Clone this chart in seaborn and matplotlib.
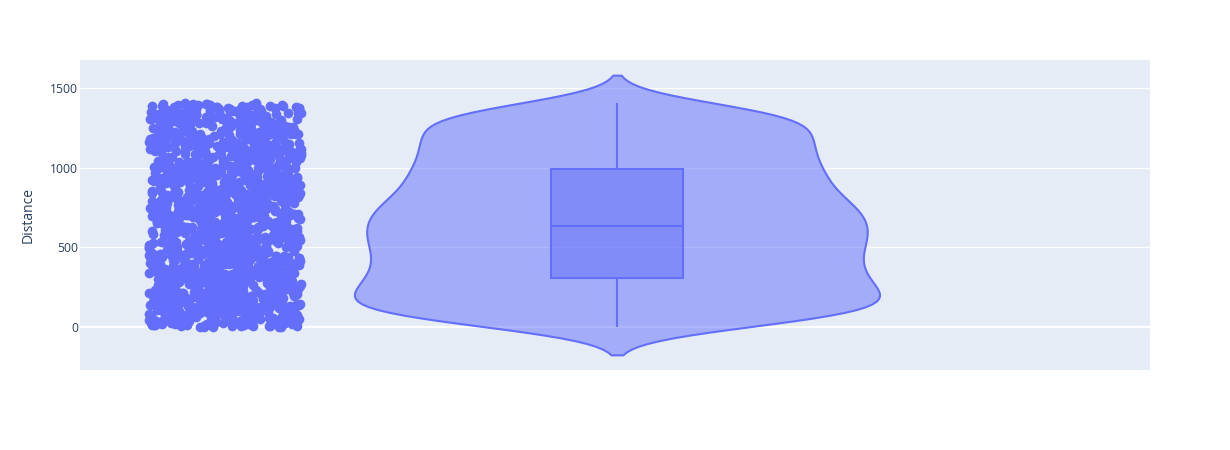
import matplotlib
matplotlib.use("Agg")
import matplotlib.pyplot as plt
import pandas as pd
import seaborn as sns

distance = [
    12, 47, 3, 88, 61, 25, 94, 39, 7, 70, 53, 18, 81, 33, 66, 2, 99, 44, 57, 21,
    76, 9, 85, 38, 63, 15, 92, 50, 28, 72, 5, 41, 97, 59, 23, 80, 35, 68, 11, 90,
    46, 0, 74, 30, 55, 17, 83, 64, 27, 95, 42, 8, 78, 52, 36, 87, 20, 69,
    104, 167, 131, 188, 112, 149, 176, 125, 193, 140, 158, 118, 183, 136, 101, 171,
    154, 129, 197, 146, 109, 163, 185, 122, 138, 179, 115, 152, 191, 133, 106, 169,
    144, 127, 181, 160, 199, 117, 150, 174, 135, 102, 186, 142, 165, 120, 195, 156,
    111, 178, 131, 147, 189, 124, 161, 108, 172, 139, 153, 184, 114, 198, 143, 166, 127,
    213, 276, 241, 298, 225, 259, 287, 204, 236, 268, 219, 252, 291, 230, 264, 208,
    281, 246, 222, 295, 257, 238, 272, 211, 284, 249, 227, 263, 201, 290, 244, 217,
    279, 255, 233, 297, 206, 270, 242, 261, 215, 286, 228, 251, 293, 209, 274, 239,
    266, 220, 283, 247, 203, 258, 235, 289, 224, 271,
    307, 352, 389, 331, 366, 314, 378, 345, 302, 393, 327, 360, 318, 384, 341, 372,
    309, 356, 335, 398, 323, 369, 347, 311, 381, 338, 363, 305, 392, 329, 354, 375,
    316, 343, 387, 321, 359, 333, 396, 312, 368, 349, 380, 325, 361, 301, 390, 337,
    357, 319, 383, 346, 371, 328, 395, 340,
    412, 463, 438, 491, 405, 457, 426, 484, 449, 418, 473, 432, 497, 441, 409, 468,
    421, 486, 453, 434, 479, 402, 461, 445, 493, 415, 471, 429, 455, 488, 404, 437,
    466, 423, 482, 451, 410, 476, 443, 498, 427, 459, 414, 470, 436, 489, 447, 407,
    464, 431, 481, 419, 456, 440, 494, 425,
    508, 561, 534, 587, 519, 573, 546, 502, 595, 528, 557, 513, 582, 540, 567, 524,
    591, 551, 506, 578, 537, 563, 516, 599, 544, 572, 521, 555, 588, 531, 504, 566,
    549, 584, 511, 559, 538, 593, 526, 575, 547, 517, 569, 533, 586, 552, 501, 579,
    542, 564, 523, 597, 556, 514, 581, 535, 568, 529, 590, 548,
    603, 658, 627, 684, 612, 671, 639, 696, 618, 653, 631, 689, 607, 664, 642, 678,
    621, 699, 648, 635, 673, 609, 660, 687, 625, 644, 615, 692, 656, 633, 668, 601,
    681, 646, 624, 697, 662, 611, 638, 675, 652, 619, 686, 629, 665, 605, 693, 641,
    617, 670, 636, 683, 657, 613, 690, 628, 661, 645, 677, 622,
    714, 768, 736, 792, 705, 751, 783, 722, 760, 741, 797, 710, 774, 729, 756, 788,
    717, 745, 702, 779, 733, 764, 725, 795, 748, 708, 771, 739, 786, 719, 757, 731,
    799, 744, 712, 766, 727, 781, 753, 704, 790, 737, 762, 715, 776, 742, 723, 794,
    759, 707, 784, 735, 770, 720, 747, 789,
    806, 853, 827, 881, 815, 864, 839, 897, 821, 872, 845, 809, 888, 833, 859, 817,
    876, 842, 803, 893, 851, 826, 868, 812, 884, 837, 857, 824, 899, 848, 811, 870,
    835, 891, 819, 862, 844, 804, 879, 830, 856, 814, 886, 841, 866, 822, 895, 850, 831,
    908, 962, 931, 985, 917, 953, 994, 926, 971, 943, 904, 979, 936, 958, 913, 990,
    947, 922, 967, 901, 983, 939, 956, 915, 997, 929, 974, 950, 906, 988, 933, 961,
    919, 976, 944, 911, 993, 928, 965, 941, 902, 981, 954, 924, 970, 937, 998, 912, 959,
    1007, 1063, 1031, 1088, 1015, 1052, 1096, 1024, 1071, 1040, 1003, 1082, 1036, 1059,
    1012, 1093, 1047, 1021, 1068, 1005, 1085, 1033, 1056, 1018, 1099, 1044, 1076, 1027,
    1062, 1009, 1090, 1038, 1066, 1014, 1079, 1050, 1025, 1094, 1042, 1070, 1001, 1086,
    1054, 1029, 1073,
    1106, 1158, 1129, 1183, 1114, 1147, 1192, 1121, 1166, 1138, 1102, 1175, 1133, 1154,
    1110, 1189, 1143, 1125, 1169, 1104, 1181, 1136, 1161, 1117, 1197, 1149, 1172, 1128,
    1156, 1108, 1186, 1140, 1164, 1119, 1178, 1151, 1123, 1194, 1145, 1170, 1101, 1184,
    1152, 1131, 1176,
    1205, 1262, 1233, 1287, 1216, 1250, 1296, 1223, 1271, 1241, 1208, 1280, 1237, 1259,
    1213, 1292, 1246, 1226, 1266, 1202, 1284, 1231, 1257, 1219, 1298, 1244, 1275, 1229,
    1263, 1210, 1289, 1239, 1268, 1215, 1278, 1253, 1222, 1294, 1248, 1272, 1203, 1283,
    1255, 1235, 1277,
    1304, 1357, 1326, 1384, 1312, 1349, 1391, 1320, 1368, 1337, 1301, 1377, 1333, 1355,
    1315, 1393, 1342, 1324, 1366, 1307, 1386, 1330, 1361, 1318, 1397, 1346, 1373, 1328,
    1359, 1309, 1389, 1339, 1364, 1314, 1380, 1352, 1322, 1395, 1344, 1371, 1303, 1382,
    1354, 1335, 1376, 1399,
    1402, 1406,
    # second pass over the cloud
    4, 51, 29, 86, 13, 67, 40, 93, 22, 58, 1, 77, 34, 62, 16, 89, 45, 71, 26, 98,
    10, 54, 83, 37, 65, 19, 91, 48, 6, 73, 31, 60, 24, 86, 43, 14, 79, 56, 32, 96,
    1, 68, 49, 84, 27, 63, 37, 92, 10, 75, 45, 19, 58, 81, 6, 71, 29, 53,
    110, 157, 132, 194, 118, 171, 145, 103, 187, 126, 162, 139, 199, 114, 151, 177,
    123, 168, 141, 105, 192, 134, 159, 116, 181, 148, 127, 173, 108, 196, 137, 164,
    121, 155, 184, 143, 100, 170, 130, 190, 113, 161, 147, 178, 119, 136, 198, 153,
    107, 182, 128, 166, 144, 175, 115, 189, 133, 158, 102, 174, 141, 195, 124, 163,
    150, 112, 186,
    202, 256, 231, 285, 214, 269, 243, 296, 221, 262, 207, 278, 237, 250, 292, 218,
    265, 229, 282, 245, 205, 273, 253, 234, 299, 212, 260, 240, 288, 226, 267, 210,
    280, 248, 223, 294, 254, 232, 275, 216, 261, 200, 286, 244, 227, 270, 238, 291,
    211, 257, 234, 281, 219, 264, 247, 206, 277, 252, 239, 289,
    303, 348, 376, 322, 359, 311, 386, 334, 367, 300, 353, 391, 326, 344, 379, 315,
    362, 338, 397, 308, 350, 373, 320, 342, 385, 331, 364, 306, 393, 336, 357, 313,
    381, 347, 324, 370, 304, 388, 339, 358, 317, 374, 332, 399, 351, 310, 366, 344,
    383, 321, 355, 337, 392, 314, 377, 329,
    401, 452, 428, 477, 416, 465, 439, 490, 408, 458, 433, 485, 420, 471, 446, 499,
    411, 462, 435, 480, 424, 454, 403, 487, 442, 467, 417, 495, 430, 460, 413, 474,
    448, 406, 483, 437, 469, 422, 492, 450, 400, 478, 433, 461, 418, 487, 444, 409,
    472, 429, 496, 456, 415, 466, 439, 483,
    503, 558, 527, 581, 512, 566, 539, 594, 520, 550, 507, 576, 543, 589, 515, 562,
    530, 598, 545, 509, 571, 536, 584, 518, 554, 500, 592, 541, 565, 525, 579, 510,
    548, 586, 532, 560, 505, 574, 522, 596, 553, 537, 569, 514, 583, 545, 501, 563,
    528, 590, 549, 518, 577, 534, 557, 511,
    606, 654, 632, 688, 614, 667, 643, 695, 620, 659, 602, 676, 637, 650, 685, 626,
    663, 610, 698, 640, 672, 616, 655, 691, 630, 647, 604, 680, 623, 666, 639, 694,
    612, 658, 634, 674, 608, 686, 649, 627, 662, 600, 679, 644, 619, 697, 653, 631,
    669, 614, 684, 641, 625, 676, 658, 609, 692,
    703, 755, 728, 782, 711, 767, 740, 796, 718, 761, 700, 773, 734, 750, 787, 724,
    765, 709, 793, 743, 778, 716, 752, 730, 798, 706, 769, 746, 785, 721, 758, 737,
    791, 713, 775, 749, 726, 780, 701, 763, 738, 797, 719, 754, 732, 772, 710, 787,
    745, 727, 766, 704, 782, 741, 758, 717,
    802, 858, 825, 877, 813, 866, 840, 894, 818, 852, 801, 883, 836, 861, 808, 890,
    847, 823, 873, 810, 855, 832, 898, 816, 869, 843, 805, 881, 829, 860, 820, 887,
    838, 850, 807, 875, 828, 896, 846, 815, 863, 834, 880, 800, 854, 826, 892, 843, 871,
    903, 957, 927, 982, 914, 966, 940, 995, 921, 951, 900, 975, 934, 960, 910, 987,
    945, 918, 969, 905, 979, 932, 955, 923, 999, 948, 964, 909, 986, 937, 952, 916,
    973, 941, 991, 925, 960, 907, 980, 946, 920, 968, 935, 996, 913, 958, 942, 977,
    930, 989,
    1004, 1058, 1026, 1081, 1013, 1067, 1041, 1095, 1020, 1053, 1000, 1074, 1035, 1061,
    1011, 1089, 1046, 1023, 1070, 1008, 1084, 1030, 1057, 1017, 1098, 1043, 1065, 1006,
    1087, 1034, 1051, 1019, 1078, 1039, 1092, 1028, 1060, 1002, 1083, 1048, 1016, 1072,
    1037, 1097, 1022, 1064,
    1103, 1157, 1126, 1180, 1112, 1165, 1139, 1193, 1118, 1152, 1100, 1174, 1134, 1160,
    1109, 1188, 1146, 1122, 1169, 1107, 1185, 1130, 1155, 1115, 1198, 1142, 1163, 1105,
    1187, 1137, 1150, 1120, 1177, 1140, 1191, 1127, 1162, 1103, 1182, 1148, 1116, 1171,
    1135, 1196, 1124, 1167,
    1207, 1258, 1227, 1282, 1214, 1266, 1240, 1295, 1221, 1254, 1200, 1273, 1236, 1261,
    1211, 1288, 1245, 1224, 1270, 1204, 1285, 1232, 1256, 1218, 1299, 1243, 1264, 1209,
    1290, 1238, 1251, 1217, 1279, 1242, 1293, 1228, 1260, 1206, 1281, 1247, 1212, 1274,
    1234, 1297, 1225,
    1306, 1354, 1329, 1381, 1311, 1362, 1340, 1394, 1319, 1350, 1302, 1375, 1335, 1360,
    1313, 1388, 1345, 1323, 1369, 1305, 1383, 1331, 1358, 1316, 1398, 1343, 1365, 1308,
    1390, 1338, 1351, 1317, 1379, 1341, 1392, 1327, 1363, 1300, 1385, 1347, 1321, 1372,
    1334, 1396, 1325, 1367,
    1401, 1404,
]

y_ticks = [0, 500, 1000, 1500]
y_title = "Distance"
groups = ["points", "violin"]

LINE = "#636efa"
FILL = (99 / 255, 110 / 255, 250 / 255, 0.5)
BG = "#E5ECF6"
TEXT = "#2a3f5f"


def set_style() -> None:
    sns.set_theme(
        style="darkgrid",
        rc={
            "axes.facecolor": BG,
            "grid.color": "white",
            "grid.linewidth": 0.8,
            "axes.edgecolor": BG,
        },
    )
    plt.rcParams["font.family"] = ["Open Sans", "DejaVu Sans"]


def main() -> None:
    set_style()
    pts_df = pd.DataFrame({"group": groups[0], "distance": distance})
    vio_df = pd.DataFrame({"group": groups[1], "distance": distance})

    fig = plt.figure(figsize=(12.3, 4.5), dpi=100)
    ax = fig.add_axes([80 / 1230, 80 / 450, 1070 / 1230, 310 / 450])

    sns.violinplot(
        data=vio_df, x="group", y="distance", order=groups,
        color=LINE, linecolor=LINE, linewidth=1.5, inner=None,
        width=1.34, cut=2, bw_method=0.218, saturation=1, ax=ax,
    )
    for coll in ax.collections:
        coll.set_facecolor(FILL)
        coll.set_edgecolor(LINE)

    sns.boxplot(
        data=vio_df, x="group", y="distance", order=groups,
        width=0.335, whis=(0, 100), showcaps=False, saturation=1,
        color=LINE, linecolor=LINE, linewidth=1.5, fliersize=0,
        boxprops=dict(facecolor=FILL), ax=ax,
    )

    sns.stripplot(
        data=pts_df, x="group", y="distance", order=groups,
        color=LINE, size=7.0, jitter=0.195, linewidth=0, ax=ax,
    )

    ax.axhline(0, color="white", linewidth=1.6, zorder=0.6)
    ax.set_xlim(-0.37, 2.36)
    ax.set_ylim(-270, 1676)
    ax.set_xticks([])
    ax.set_xlabel("")
    ax.xaxis.grid(False)
    ax.set_yticks(y_ticks)
    ax.set_yticklabels([str(t) for t in y_ticks])
    ax.tick_params(axis="y", length=0, pad=1.5, labelsize=8.7, labelcolor=TEXT)
    ax.set_ylabel(y_title, fontsize=10, color=TEXT, va="center", ha="center")
    ax.yaxis.set_label_coords(-0.0486, 0.5)
    for side in ax.spines.values():
        side.set_visible(False)

    fig.savefig("out.png", dpi=100, facecolor="white")
    plt.close(fig)


if __name__ == "__main__":
    main()
